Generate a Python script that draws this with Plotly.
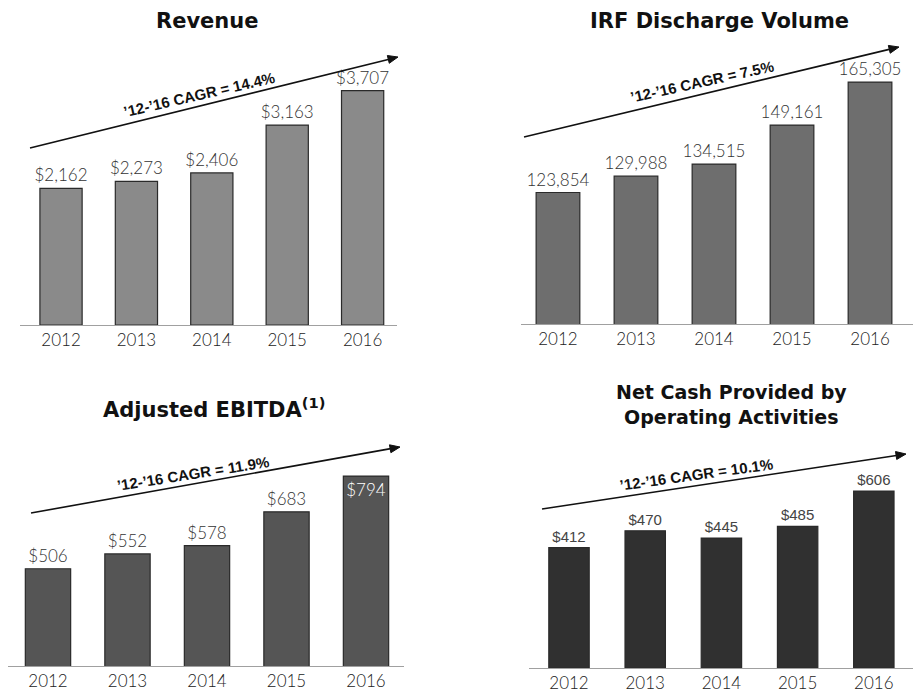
import math
import plotly.graph_objects as go

# ---------------- data ----------------
years = ["2012", "2013", "2014", "2015", "2016"]

revenue = [2162, 2273, 2406, 3163, 3707]
irf_discharges = [123854, 129988, 134515, 149161, 165305]
adj_ebitda = [506, 552, 578, 683, 794]
net_cash_ops = [412, 470, 445, 485, 606]

revenue_labels = [f"${v:,}" for v in revenue]
irf_labels = [f"{v:,}" for v in irf_discharges]
ebitda_labels = [f"${v:,}" for v in adj_ebitda]
net_cash_labels = [f"${v:,}" for v in net_cash_ops]

titles = ["Revenue", "IRF Discharge Volume", "Adjusted EBITDA<sup>(1)</sup>",
          "Net Cash Provided by<br>Operating Activities"]
cagr_labels = ["\u201912-\u201916 CAGR = 14.4%", "\u201912-\u201916 CAGR = 7.5%",
               "\u201912-\u201916 CAGR = 11.9%", "\u201912-\u201916 CAGR = 10.1%"]

# ---------------- layout helpers ----------------
W, H = 913, 694


def px(x):
    return x / W


def py(y):
    return 1 - y / H


LIGHT = "Lato"
BOLD = "DejaVu Sans"

fig = go.Figure()

panels = [
    dict(v=revenue, lab=revenue_labels, fill="#8a8a8a", w=0.56,
         xd=(20, 397), yd=(325, 40), xr=[-0.544, 4.456], yr=[0, 4509],
         lf=dict(family=LIGHT, size=17, color="#333", weight=300)),
    dict(v=irf_discharges, lab=irf_labels, fill="#6e6e6e", w=0.56,
         xd=(521, 913), yd=(324, 40), xr=[-0.474, 4.551], yr=[74503, 181101],
         lf=dict(family=LIGHT, size=17, color="#333", weight=300)),
    dict(v=adj_ebitda, lab=ebitda_labels, fill="#555555", w=0.57,
         xd=(8, 404), yd=(666, 440), xr=[-0.503, 4.478], yr=[204, 906],
         lf=dict(family=LIGHT, size=17, color="#333", weight=300)),
    dict(v=net_cash_ops, lab=net_cash_labels, fill="#303030", w=0.53,
         xd=(529, 913), yd=(668, 440), xr=[-0.525, 4.514], yr=[0, 781],
         lf=dict(family="Liberation Sans", size=15, color="#444")),
]

for i, p in enumerate(panels):
    n = "" if i == 0 else str(i + 1)
    positions = ["outside"] * len(years)
    if i == 2:
        positions[-1] = "inside"
    fig.add_trace(go.Bar(
        x=years, y=p["v"], text=p["lab"], textposition=positions,
        insidetextanchor="end", textangle=0,
        outsidetextfont=p["lf"],
        insidetextfont=dict(family=p["lf"]["family"], size=p["lf"]["size"],
                            color="white", weight=300),
        constraintext="none",
        marker=dict(color=p["fill"], line=dict(color="#2a2a2a", width=1.2)),
        width=p["w"], xaxis="x" + n, yaxis="y" + n, showlegend=False,
        hoverinfo="x+y",
    ))
    fig.layout["xaxis" + n] = dict(
        domain=[px(p["xd"][0]), px(p["xd"][1])], range=p["xr"], type="category",
        showline=True, linecolor="#a0a0a0", linewidth=1, ticks="",
        showgrid=False, zeroline=False, anchor="y" + n, fixedrange=True,
        tickfont=dict(family=LIGHT, size=17, color="#222", weight=300),
    )
    fig.layout["yaxis" + n] = dict(
        domain=[py(p["yd"][0]), py(p["yd"][1])], range=p["yr"], visible=False,
        anchor="x" + n, fixedrange=True,
    )

annotations = []
shapes = []
# titles
title_pos = [(207, 21, 21), (719, 21, 21), (214, 408, 21), (731, 404, 19)]
for t, (x, y, s) in zip(titles, title_pos):
    annotations.append(dict(text=t, x=px(x), y=py(y), xref="paper", yref="paper",
                            showarrow=False, xanchor="center", yanchor="middle",
                            font=dict(family=BOLD, size=s, color="#111", weight="bold")))

# CAGR arrows (tail -> tip, pixels): line + filled triangular head
arrows = [((30, 148), (398, 57)), ((524, 137), (899, 47)),
          ((31, 513), (400, 447)), ((542, 509), (906, 454))]
HEAD_L, HEAD_W = 10, 4
for (tx, ty), (hx, hy) in arrows:
    L = math.hypot(hx - tx, hy - ty)
    dx, dy = (hx - tx) / L, (hy - ty) / L
    nx, ny = -dy, dx
    bx, by = hx - dx * HEAD_L, hy - dy * HEAD_L
    shapes.append(dict(type="line", xref="paper", yref="paper",
                       x0=px(tx), y0=py(ty), x1=px(bx + dx * 2), y1=py(by + dy * 2),
                       line=dict(color="#111", width=1.6)))
    path = (f"M {px(hx)},{py(hy)} L {px(bx + nx * HEAD_W)},{py(by + ny * HEAD_W)} "
            f"L {px(bx - nx * HEAD_W)},{py(by - ny * HEAD_W)} Z")
    shapes.append(dict(type="path", xref="paper", yref="paper", path=path,
                       fillcolor="#111", line=dict(color="#111", width=1)))

# CAGR texts
cagr_pos = [(199, 95, -13), (702, 82, -12.5), (193, 473, -9), (696, 474, -8)]
for t, (x, y, a) in zip(cagr_labels, cagr_pos):
    annotations.append(dict(text=t, x=px(x), y=py(y), xref="paper", yref="paper",
                            showarrow=False, textangle=a, xanchor="center", yanchor="middle",
                            font=dict(family="Liberation Sans", size=15, color="#111",
                                      weight="bold")))

fig.update_layout(
    width=W, height=H, margin=dict(l=0, r=0, t=0, b=0),
    paper_bgcolor="white", plot_bgcolor="white",
    annotations=annotations, shapes=shapes, bargap=0.4,
)

fig.write_html("out.html", config={"displayModeBar": False},
               post_script="document.body.style.margin='0';document.body.style.overflow='hidden';")
